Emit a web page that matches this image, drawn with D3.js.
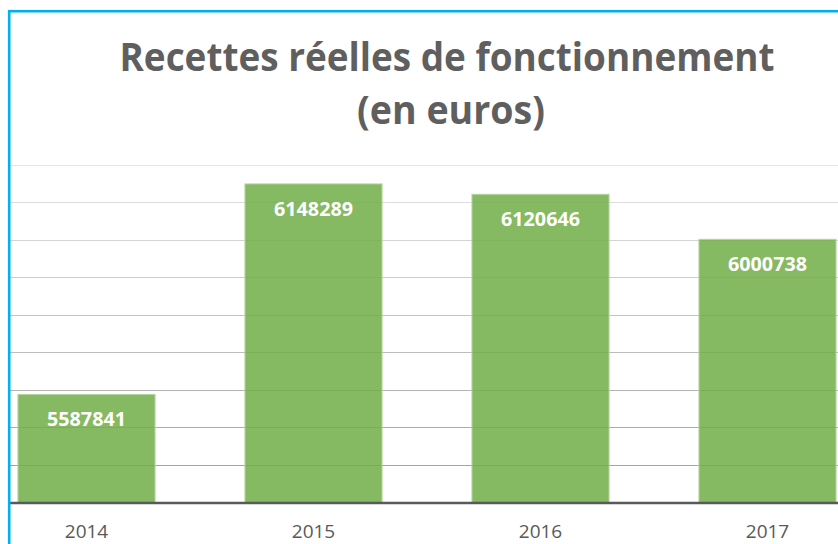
<!DOCTYPE html>
<html><head><meta charset="utf-8">
<script src="https://cdn.jsdelivr.net/npm/d3@7"></script>
<style>body{margin:0;background:#fff;overflow:hidden}svg{display:block}</style>
</head><body>
<script>
const categories = ["2014", "2015", "2016", "2017"];
const values = [5587841, 6148289, 6120646, 6000738];
const gridTicks = [5300000, 5400000, 5500000, 5600000, 5700000, 5800000, 5900000, 6000000, 6100000, 6200000];
const titleLines = ["Recettes réelles de fonctionnement", "(en euros)"];

const W = 838, H = 544;
const svg = d3.select("body").append("svg").attr("width", W).attr("height", H);

const x = d3.scaleBand().domain(categories).range([-27, 881]).paddingInner(0.396).paddingOuter(0.198);
const y = d3.scaleLinear().domain([5300000, 6200000]).range([502.5, 164.5]);
const gridColor = d3.scaleLinear().domain([164, 502]).range(["#e4e4e4", "#9c9c9c"]);

// gridlines
svg.append("g").selectAll("line").data(gridTicks.slice(1)).join("line")
  .attr("x1", 10).attr("x2", W)
  .attr("y1", d => Math.round(y(d)) + 0.5).attr("y2", d => Math.round(y(d)) + 0.5)
  .attr("stroke", d => gridColor(y(d))).attr("stroke-width", 1.2);

// bars
svg.append("g").selectAll("rect").data(values).join("rect")
  .attr("x", (d, i) => x(categories[i]))
  .attr("width", x.bandwidth())
  .attr("y", d => y(d))
  .attr("height", d => y(5300000) - y(d))
  .attr("fill", "#70ad47").attr("fill-opacity", 0.85)
  .attr("stroke", "#b5d6a0").attr("stroke-width", 1);

// data labels
svg.append("g").selectAll("text").data(values).join("text")
  .attr("x", (d, i) => x(categories[i]) + x.bandwidth() / 2)
  .attr("y", d => y(d) + 32)
  .attr("text-anchor", "middle")
  .attr("font-family", "'Open Sans', sans-serif").attr("font-weight", "bold")
  .attr("font-size", 19.5).attr("fill", "#fff")
  .attr("textLength", 79).attr("lengthAdjust", "spacingAndGlyphs")
  .text(d => d);

// baseline
svg.append("line").attr("x1", 10).attr("x2", W)
  .attr("y1", 503).attr("y2", 503)
  .attr("stroke", "#595959").attr("stroke-width", 2.5);

// x axis labels
svg.append("g").selectAll("text").data(categories).join("text")
  .attr("x", d => x(d) + x.bandwidth() / 2)
  .attr("y", 538)
  .attr("text-anchor", "middle")
  .attr("font-family", "'Open Sans', sans-serif")
  .attr("font-size", 19).attr("fill", "#595959")
  .text(d => d);

// title
const titleWidths = [655, 188];
const titleX = [447, 451];
const titleY = [71, 124];
svg.append("g").selectAll("text").data(titleLines).join("text")
  .attr("x", (d, i) => titleX[i]).attr("y", (d, i) => titleY[i])
  .attr("text-anchor", "middle")
  .attr("font-family", "'Open Sans', sans-serif").attr("font-weight", "bold")
  .attr("font-size", 38.5).attr("fill", "#5f5f5f")
  .attr("textLength", (d, i) => titleWidths[i]).attr("lengthAdjust", "spacingAndGlyphs")
  .text(d => d);

// border
svg.append("rect").attr("x", 9.2).attr("y", 11.2).attr("width", 1000).attr("height", 1000)
  .attr("fill", "none").attr("stroke", "#00b0f0").attr("stroke-width", 2.6);
</script>
</body></html>
